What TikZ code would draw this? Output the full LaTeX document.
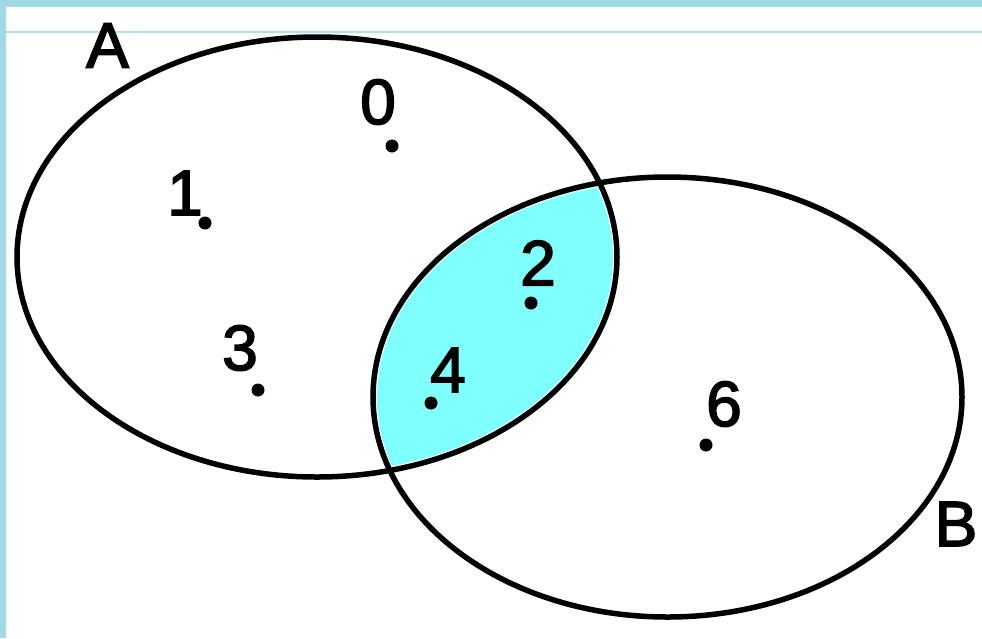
\documentclass[tikz,border=0pt]{standalone}
\usepackage{fontspec}
\setmainfont{Liberation Sans}[FakeBold=2.5]
\definecolor{frame}{RGB}{160,218,228}
\definecolor{frameline}{RGB}{175,225,235}
\definecolor{lens}{RGB}{128,255,255}
\tikzset{
  lbl/.style={inner sep=0pt, font=\fontsize{64}{64}\selectfont},
  pt/.style={fill=black},
  setline/.style={line width=5.5pt, draw=black}
}
\begin{document}
\begin{tikzpicture}[x=1pt,y=-1pt]
\useasboundingbox (0,0) rectangle (982,638);
% background and frame
\fill[white] (0,0) rectangle (982,638);
\fill[frame] (0,0) rectangle (982,7);
\fill[frame] (0,0) rectangle (6,638);
\draw[frameline, line width=1.2pt] (6,32) -- (982,32);
% intersection fill
\begin{scope}
  \clip (317,257) ellipse [x radius=296pt, y radius=216pt];
  \fill[lens] (667.5,397) ellipse [x radius=290.5pt, y radius=216pt];
\end{scope}
% sets
\draw[setline] (317,257) ellipse [x radius=300pt, y radius=220pt];
\draw[setline] (667.5,397) ellipse [x radius=294.5pt, y radius=220pt];
% set labels
\node[lbl] (lA) at (107.5,45.5) {A};
\node[lbl] (lB) at (956,524) {B};
% elements
\node[lbl] (n0) at (378,102) {0};
\fill[pt] (392,146) circle [radius=6.5pt];
\node[lbl] (n1) at (185,193) {1};
\fill[pt] (205,223) circle [radius=6.5pt];
\node[lbl] (n2) at (538,263) {2};
\fill[pt] (531,303) circle [radius=6.5pt];
\node[lbl] (n3) at (240,348) {3};
\fill[pt] (258,390) circle [radius=6.5pt];
\node[lbl] (n4) at (448,370) {4};
\fill[pt] (431,403) circle [radius=6.5pt];
\node[lbl] (n6) at (724,404) {6};
\fill[pt] (706,445) circle [radius=6.5pt];
\end{tikzpicture}
\end{document}
